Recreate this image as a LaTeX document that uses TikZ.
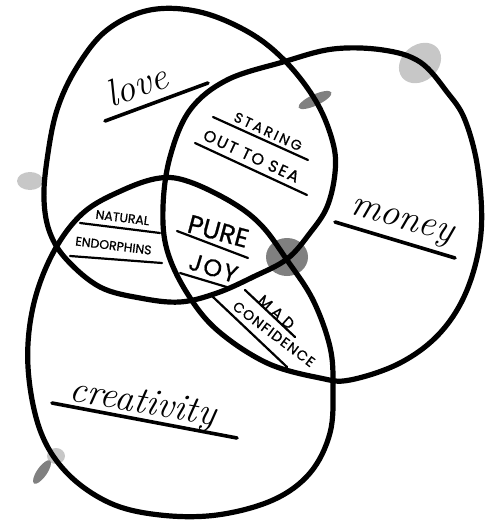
\documentclass[tikz,border=0pt]{standalone}
\usepackage{fontspec}
\newfontfamily\handcaps[FakeBold=0.8]{Poppins}
\usetikzlibrary{calc}
\definecolor{smudge}{gray}{0.78}
\definecolor{smudgedark}{gray}{0.5}
\tikzset{
  ring/.style={line width=5.2pt, line join=round},
  uline/.style={line width=2.2pt, line cap=round},
  bigline/.style={line width=3.6pt, line cap=round},
  caps/.style={anchor=base, inner sep=0pt, font=\handcaps\fontsize{#1}{#1}\selectfont},
  script/.style={anchor=base, inner sep=0pt, font=\itshape\fontsize{38}{40}\selectfont}
}
\begin{document}
\begin{tikzpicture}[x=1pt,y=-1pt]
\useasboundingbox (0,0) rectangle (486,520);

\fill[smudge, rotate around={40:(420,63)}] (420,63) ellipse (23 and 18);
\fill[smudgedark, rotate around={25:(315,100)}] (315,100) ellipse (18 and 5.5);
\fill[smudge] (30,181) ellipse (13 and 9);
\fill[smudgedark] (287,257) ellipse (21 and 19);
\fill[smudge] (56,456) ellipse (9 and 8);
\fill[smudgedark, rotate around={55:(42,472)}] (42,472) ellipse (14 and 5);

\draw[ring] plot[smooth cycle, tension=.6] coordinates {(150,10) (200,12) (250,33) (287,63) (317,103) (333,143) (335,173) (327,207) (310,233) (287,259) (253,277) (217,293) (180,302) (140,298) (100,287) (67,260) (50,233) (44,200) (47,160) (57,110) (77,67) (107,30)};
\draw[ring] plot[smooth cycle, tension=.6] coordinates {(283,62) (333,49) (383,50) (420,62) (447,92) (465,120) (478,170) (481,233) (467,290) (440,333) (400,363) (350,380) (320,378) (267,363) (217,330) (187,293) (167,250) (163,207) (170,157) (190,110) (227,80)};
\draw[ring] plot[smooth cycle, tension=.6] coordinates {(160,178) (190,182) (233,203) (262,226) (287,260) (313,300) (330,347) (333,387) (330,433) (310,473) (273,500) (217,515) (160,515) (110,503) (67,473) (40,430) (28,367) (33,307) (53,253) (83,213) (123,190)};

\coordinate (l1) at (105,121); \coordinate (l2) at (208,83);
\coordinate (s1) at (213,117); \coordinate (s2) at (308,160);
\coordinate (o1) at (195,143); \coordinate (o2) at (307,195);
\coordinate (n1) at (80,223);  \coordinate (n2) at (160,233);
\coordinate (e1) at (70,256);  \coordinate (e2) at (162,263);
\coordinate (p1) at (177,231); \coordinate (p2) at (248,258);
\coordinate (j1) at (180,273); \coordinate (j2) at (230,288);
\coordinate (m1) at (245,290); \coordinate (m2) at (295,337);
\coordinate (c1) at (213,297); \coordinate (c2) at (287,367);
\coordinate (y1) at (335,222); \coordinate (y2) at (455,258);
\coordinate (k1) at (52,403);  \coordinate (k2) at (237,438);

\draw[bigline] (l1) -- (l2);
\draw[bigline] (y1) -- (y2);
\draw[bigline] (k1) -- (k2);
\draw[uline] (s1) -- (s2);
\draw[uline] (o1) -- (o2);
\draw[uline] (n1) -- (n2);
\draw[uline] (e1) -- (e2);
\draw[uline] (p1) -- (p2);
\draw[uline] (j1) -- (j2);
\draw[uline] (m1) -- (m2);
\draw[uline] (c1) -- (c2);

\node[script, rotate=20] (love) at (141,97) {love};
\node[script, rotate=-16] (money) at (400,228) {money};
\node[script, rotate=-10] (creativity) at (141,413) {creativity};
\node[caps=14, rotate=-25] (staring) at (266,136) {\addfontfeature{LetterSpace=18}STARING};
\node[caps=16, rotate=-25] (outtosea) at (249,161) {\addfontfeature{LetterSpace=12}OUT TO SEA};
\node[caps=12.5, rotate=-7] (natural) at (122,222) {NATURAL};
\node[caps=12.5, rotate=-7] (endorphins) at (113,250) {ENDORPHINS};
\node[caps=26, rotate=-15] (pure) at (216,240) {PURE};
\node[caps=24, rotate=-17] (joy) at (211,276) {\addfontfeature{LetterSpace=8}JOY};
\node[caps=15, rotate=-42] (mad) at (273,316) {\addfontfeature{LetterSpace=30}MAD};
\node[caps=14, rotate=-37] (confidence) at (271,338) {\addfontfeature{LetterSpace=9}CONFIDENCE};
\end{tikzpicture}
\end{document}
